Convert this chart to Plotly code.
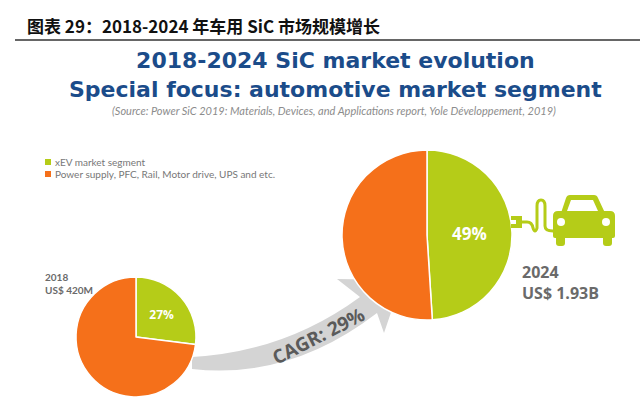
import plotly.graph_objects as go

# ---- data ----
segments = ["xEV market segment", "Power supply, PFC, Rail, Motor drive, UPS and etc."]
colors = ["#b5cc18", "#f5701a"]
years = ["2018", "2024"]
market_size = ["US$ 420M", "US$ 1.93B"]
share_2018 = [27, 73]
share_2024 = [49, 51]
cagr_label = "CAGR: 29%"
header = "图表 29：2018-2024 年车用 SiC 市场规模增长"
title_lines = ["2018-2024 SiC market evolution", "Special focus: automotive market segment"]
source = "(Source: Power SiC 2019: Materials, Devices, and Applications report, Yole Développement, 2019)"

W, H = 640, 405
BLUE = "#1b4c8a"
GRAY = "#6a6a6a"
GREEN = colors[0]


def dom(x0, x1, y0, y1):
    # pixel box (y down) -> paper domain
    return dict(x=[x0 / W, x1 / W], y=[1 - y1 / H, 1 - y0 / H])


fig = go.Figure()
# anchor trace for the pixel-space axes used by shapes/annotations
fig.add_trace(go.Scatter(x=[], y=[], showlegend=False, hoverinfo="skip"))

for vals, d, fs in [(share_2018, dom(76, 196, 277, 397), 12),
                    (share_2024, dom(342, 512, 150, 320), 17)]:
    fig.add_trace(go.Pie(
        labels=segments, values=vals, sort=False, direction="clockwise", rotation=0,
        marker=dict(colors=colors, line=dict(color="white", width=1.5)),
        texttemplate=["%{percent:.0%}", ""], textposition="inside",
        insidetextorientation="horizontal",
        textfont=dict(family="Open Sans", size=fs, color="white", weight="bold"),
        domain=d, showlegend=False, hoverinfo="label+percent",
    ))

shapes = []
# header rule
shapes.append(dict(type="line", x0=15, x1=640, y0=40, y1=40, line=dict(color="#333333", width=1.5),
                   layer="above"))
# CAGR arrow band
shapes.append(dict(type="path",
                   path="M 192,357 Q 285,352 360,297 L 337,279 L 402,280 L 384,333 L 377,313 Q 290,380 192,369 Z",
                   fillcolor="#d4d4d4", line=dict(width=0), layer="below"))
# legend squares
for i, c in enumerate(colors):
    yc = 162 + i * 12
    shapes.append(dict(type="rect", x0=45, x1=51, y0=yc - 3, y1=yc + 3, fillcolor=c, line=dict(width=0)))

# plug + cord
shapes.append(dict(type="rect", x0=511, x1=522, y0=216, y1=228, fillcolor=GREEN, line=dict(width=0), layer="above"))
shapes.append(dict(type="rect", x0=511, x1=516, y0=220, y1=224, fillcolor="white", line=dict(width=0), layer="above"))
shapes.append(dict(type="path",
                   path="M 521,222 L 527,222 Q 532,222 533,228 Q 535,234 537,228 L 537,206 Q 537,200 541,200 Q 545,200 545,206 L 545,226 Q 545,231 553,231",
                   line=dict(color=GREEN, width=3), layer="above"))
# car
shapes.append(dict(type="path",
                   path="M 561,213 L 566,198 Q 567,195 570,195 L 594,195 Q 597,195 598,198 L 605,213 Z",
                   fillcolor=GREEN, line=dict(width=0), layer="above"))
shapes.append(dict(type="path", path="M 567,211 L 571,200 L 593,200 L 598,211 Z",
                   fillcolor="white", line=dict(width=0), layer="above"))
shapes.append(dict(type="path",
                   path="M 553,216 Q 553,211 558,211 L 610,211 Q 615,211 615,216 L 615,236 Q 615,238 613,238 L 555,238 Q 553,238 553,236 Z",
                   fillcolor=GREEN, line=dict(width=0), layer="above"))
for x0 in (556, 603):
    shapes.append(dict(type="path",
                       path=f"M {x0},236 L {x0 + 9},236 L {x0 + 9},243 Q {x0 + 9},246 {x0 + 6},246 L {x0 + 3},246 Q {x0},246 {x0},243 Z",
                       fillcolor=GREEN, line=dict(width=0), layer="above"))
for cx in (561, 606):
    shapes.append(dict(type="circle", x0=cx - 4, x1=cx + 4, y0=218, y1=226, fillcolor="white",
                       line=dict(width=0), layer="above"))

ann = []


def text(x, y, s, size, color, family="Lato", weight="normal", xanchor="left", style="normal", angle=0):
    ann.append(dict(x=x, y=y, xref="x", yref="y", text=s, showarrow=False, xanchor=xanchor,
                    yanchor="middle", textangle=angle, borderpad=0,
                    font=dict(family=family, size=size, color=color, weight=weight, style=style)))


text(26, 25, header, 17, "#111111", family="Noto Sans CJK SC", weight="bold")
text(335, 75, "<br>".join(title_lines), 22, BLUE, family="DejaVu Sans", weight="bold", xanchor="center")
text(334, 110, source, 11, "#8c8c8c", style="italic", xanchor="center")
for i, s in enumerate(segments):
    text(54, 162 + i * 12, s, 10, "#777777")
text(44, 277, years[0], 10, GRAY, weight="bold")
text(44, 290, market_size[0], 10, GRAY, weight="bold")
text(521, 272, years[1], 16, GRAY, family="Open Sans", weight="bold")
text(521, 293, market_size[1], 16, GRAY, family="Open Sans", weight="bold")
text(318, 336, cagr_label, 19, "#5a5a5a", family="Open Sans", weight="bold", xanchor="center", angle=-27)

fig.update_layout(
    width=W, height=H, margin=dict(l=0, r=0, t=0, b=0),
    paper_bgcolor="white", plot_bgcolor="white",
    xaxis=dict(range=[0, W], visible=False, fixedrange=True, domain=[0, 1]),
    yaxis=dict(range=[H, 0], visible=False, fixedrange=True, domain=[0, 1]),
    shapes=shapes, annotations=ann, showlegend=False,
)
fig.write_html("out.html", config={"displayModeBar": False},
               post_script="document.body.style.margin='0';document.body.style.padding='0';")
